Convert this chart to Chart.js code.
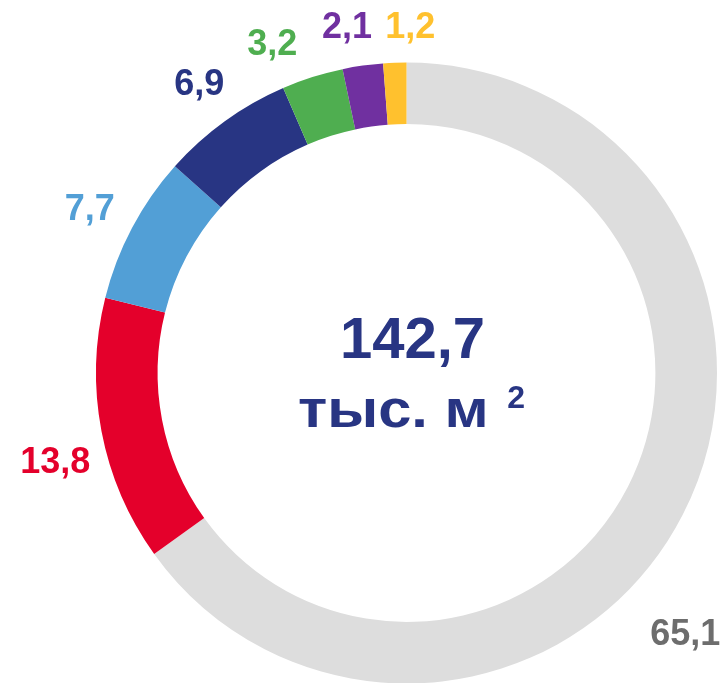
<!DOCTYPE html>
<html>
<head>
<meta charset="utf-8">
<script src="https://cdn.jsdelivr.net/npm/chart.js@4"></script>
<style>
  html, body { margin: 0; padding: 0; background: #fff; }
  #wrap { width: 723px; height: 683px; }
</style>
</head>
<body>
<div id="wrap"><canvas id="donut" width="723" height="683"></canvas></div>
<script>
const labels = ["Прочее", "Красный", "Голубой", "Синий", "Зелёный", "Фиолетовый", "Жёлтый"];
const values = [65.1, 13.8, 7.7, 6.9, 3.2, 2.1, 1.2];
const colors = ["#dddddd", "#e4002b", "#529fd6", "#283583", "#4fae50", "#7030a0", "#ffc12e"];
const labelColors = ["#6d6d6d", "#e4002b", "#529fd6", "#283583", "#4fae50", "#7030a0", "#ffc12e"];
const totalText = "142,7";
const unitText = "тыс. м";

// nudges so the value labels sit like in the original
const nudge = [[-33, 102], [-7, 24], [-7, 1], [-2, -4], [-28, 6], [-10, 2], [17, 5]];

const fmt = v => v.toFixed(1).replace(".", ",");

const donutLabels = {
  id: "donutLabels",
  afterDraw(chart) {
    const c = chart.ctx;
    const arcs = chart.getDatasetMeta(0).data;
    c.save();
    c.font = "bold 36px 'Liberation Sans', Arial, sans-serif";
    c.textAlign = "center";
    c.textBaseline = "middle";
    arcs.forEach((arc, i) => {
      const mid = (arc.startAngle + arc.endAngle) / 2;
      const r = arc.outerRadius + 40;
      const x = arc.x + Math.cos(mid) * r + nudge[i][0];
      const y = arc.y + Math.sin(mid) * r + nudge[i][1];
      c.fillStyle = labelColors[i];
      c.fillText(fmt(values[i]), x, y);
    });

    // centre text
    const cx = arcs[0].x, cy = arcs[0].y;
    c.fillStyle = "#283583";
    c.font = "bold 58px 'Liberation Sans', Arial, sans-serif";
    c.textBaseline = "alphabetic";
    c.fillText(totalText, cx + 6, cy - 15);

    // the unit line is drawn a bit wider, like the original
    const sx = 1.17;
    c.font = "bold 51px 'Liberation Sans', Arial, sans-serif";
    const w1 = c.measureText(unitText + " ").width * sx;
    c.font = "bold 32px 'Liberation Sans', Arial, sans-serif";
    const w2 = c.measureText("2").width;
    const left = cx + 4 - (w1 + w2) / 2;
    c.textAlign = "left";
    c.save();
    c.translate(left, cy + 54);
    c.scale(sx, 1);
    c.font = "bold 51px 'Liberation Sans', Arial, sans-serif";
    c.fillText(unitText, 0, 0);
    c.restore();
    c.font = "bold 32px 'Liberation Sans', Arial, sans-serif";
    c.fillText("2", left + w1 + 2, cy + 35);
    c.restore();
  }
};

const ctx = document.getElementById("donut");
const donut = new Chart(ctx, {
  type: "doughnut",
  data: {
    labels: labels,
    datasets: [{
      data: values,
      backgroundColor: colors,
      borderWidth: 0
    }]
  },
  options: {
    responsive: false,
    animation: false,
    rotation: 0,
    radius: 310.5,
    cutout: 248.5,
    layout: { padding: { left: 90, right: 0, top: 63, bottom: 0 } },
    plugins: {
      legend: { display: false },
      tooltip: { enabled: false }
    }
  },
  plugins: [donutLabels]
});
</script>
</body>
</html>
